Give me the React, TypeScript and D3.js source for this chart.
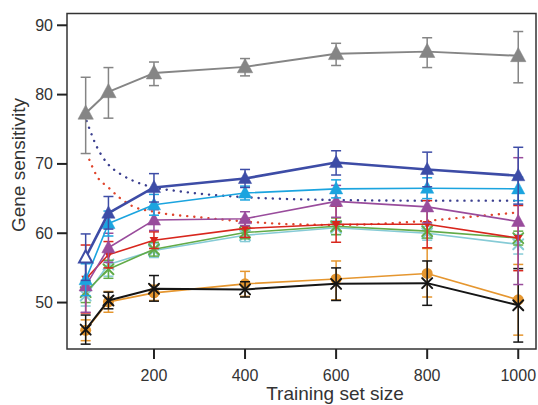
import * as d3 from 'd3'

const W = 538
const H = 405
const FRAME = { left: 67, right: 536, top: 13.5, bottom: 349 }
const FONT = '"Liberation Sans", Arial, sans-serif'

// training set sizes
const sizes = [50, 100, 200, 400, 600, 800, 1000]
const xTicks = [200, 400, 600, 800, 1000]
const yTicks = [50, 60, 70, 80, 90]

// mean gene sensitivity and error bar ends per series
const grayMean = [77.3, 80.4, 83.1, 84.0, 85.9, 86.2, 85.6]
const grayLo = [71.5, 76.6, 81.3, 82.7, 84.2, 83.9, 81.7]
const grayHi = [82.5, 83.9, 84.7, 85.2, 87.4, 88.2, 89.1]

const navyMean = [56.5, 62.9, 66.6, 67.9, 70.2, 69.2, 68.3]
const navyLo = [53.2, 60.6, 64.5, 66.6, 68.4, 66.7, 64.2]
const navyHi = [59.9, 65.3, 68.6, 69.2, 71.9, 71.7, 72.4]

const skyMean = [53.3, 61.4, 64.1, 65.8, 66.4, 66.5, 66.4]
const skyLo = [51.0, 59.6, 62.6, 64.8, 65.1, 65.0, 64.7]
const skyHi = [55.6, 63.2, 65.6, 66.8, 67.7, 68.0, 68.1]

const purpleMean = [52.4, 57.9, 61.9, 62.1, 64.6, 63.8, 61.7]
const purpleLo = [48.6, 55.8, 60.4, 61.1, 62.3, 61.5, 52.6]
const purpleHi = [56.2, 60.0, 63.4, 63.1, 66.9, 66.1, 70.9]

const redMean = [53.4, 56.9, 59.0, 60.7, 61.3, 61.3, 59.3]
const redLo = [48.5, 55.0, 57.8, 59.4, 58.7, 57.9, 54.6]
const redHi = [58.3, 58.8, 60.2, 62.0, 63.9, 64.7, 64.0]

const greenMean = [51.5, 54.8, 57.7, 60.1, 61.0, 60.3, 59.3]
const greenLo = [50.0, 53.5, 56.7, 59.2, 59.8, 59.3, 58.3]
const greenHi = [53.0, 56.1, 58.7, 61.0, 62.2, 61.3, 60.3]

const tealMean = [51.0, 55.5, 57.5, 59.7, 60.8, 60.0, 58.4]
const tealLo = [49.5, 53.8, 56.5, 58.8, 59.8, 59.0, 57.0]
const tealHi = [52.5, 57.2, 58.5, 60.6, 61.8, 61.0, 59.8]

const orangeMean = [46.0, 50.1, 51.4, 52.7, 53.4, 54.2, 50.4]
const orangeLo = [44.5, 48.6, 50.3, 50.9, 50.4, 50.8, 45.3]
const orangeHi = [47.5, 51.6, 52.5, 54.5, 56.0, 57.8, 55.5]

const blackMean = [46.1, 50.3, 52.0, 51.9, 52.7, 52.8, 49.6]
const blackLo = [44.0, 49.1, 50.2, 50.8, 50.3, 49.6, 44.3]
const blackHi = [48.2, 51.5, 53.9, 53.0, 55.0, 56.0, 54.9]

// dotted reference curves
const navyFitX = [52, 75, 100, 125, 150, 200, 250, 300, 400, 600, 800, 1000]
const navyFitY = [76.2, 72.4, 69.9, 68.6, 67.7, 66.6, 66.1, 65.7, 65.2, 64.8, 64.7, 64.7]
const redFitX = [58, 75, 100, 125, 150, 200, 300, 400, 500, 600, 800, 900, 1000]
const redFitY = [70.6, 68.2, 66.6, 65.1, 64.0, 63.1, 62.3, 61.7, 61.3, 61.2, 61.8, 62.4, 63.0]

type Marker = 'tri' | 'tridown' | 'circle' | 'x' | 'star'

interface Series {
  color: string
  mean: number[]
  lo: number[]
  hi: number[]
  marker: Marker
  lineWidth: number
  markerSize: number
  hollowFirst?: boolean
}

// drawing order: bottom first
const series: Series[] = [
  { color: '#86cbd6', mean: tealMean, lo: tealLo, hi: tealHi, marker: 'star', lineWidth: 1.6, markerSize: 5 },
  { color: '#62ab48', mean: greenMean, lo: greenLo, hi: greenHi, marker: 'x', lineWidth: 1.6, markerSize: 5 },
  { color: '#e5962f', mean: orangeMean, lo: orangeLo, hi: orangeHi, marker: 'circle', lineWidth: 1.6, markerSize: 5.5 },
  { color: '#151515', mean: blackMean, lo: blackLo, hi: blackHi, marker: 'x', lineWidth: 2, markerSize: 5 },
  { color: '#d8261d', mean: redMean, lo: redLo, hi: redHi, marker: 'tridown', lineWidth: 1.6, markerSize: 8 },
  { color: '#994c9c', mean: purpleMean, lo: purpleLo, hi: purpleHi, marker: 'tri', lineWidth: 1.6, markerSize: 12 },
  { color: '#1ba4df', mean: skyMean, lo: skyLo, hi: skyHi, marker: 'tri', lineWidth: 1.6, markerSize: 12 },
  { color: '#3d4ca6', mean: navyMean, lo: navyLo, hi: navyHi, marker: 'tri', lineWidth: 2.6, markerSize: 12, hollowFirst: true },
  { color: '#858585', mean: grayMean, lo: grayLo, hi: grayHi, marker: 'tri', lineWidth: 2, markerSize: 14 },
]

function MarkerShape({ m, x, y, color, size, hollow }: { m: Marker; x: number; y: number; color: string; size: number; hollow?: boolean }) {
  if (m === 'tri') {
    const p = `M${x},${y - size * 0.6}L${x - size * 0.55},${y + size * 0.42}L${x + size * 0.55},${y + size * 0.42}Z`
    return <path d={p} fill={hollow ? '#fff' : color} stroke={color} strokeWidth={hollow ? 2 : 0.5} />
  }
  if (m === 'tridown') {
    const p = `M${x},${y + size * 0.55}L${x - size * 0.55},${y - size * 0.4}L${x + size * 0.55},${y - size * 0.4}Z`
    return <path d={p} fill={color} />
  }
  if (m === 'circle') {
    return <circle cx={x} cy={y} r={size} fill={color} />
  }
  const s = size
  return (
    <g stroke={color} strokeWidth={2} strokeLinecap="round">
      <line x1={x - s} y1={y - s} x2={x + s} y2={y + s} />
      <line x1={x - s} y1={y + s} x2={x + s} y2={y - s} />
      {m === 'star' && <line x1={x} y1={y - s * 1.2} x2={x} y2={y + s * 1.2} />}
    </g>
  )
}

export default function App() {
  const x = d3.scaleLinear().domain([9, 1039]).range([FRAME.left, FRAME.right])
  const y = d3.scaleLinear().domain([43.3, 91.7]).range([FRAME.bottom, FRAME.top])

  const line = d3
    .line<number>()
    .x((_, i) => x(sizes[i]))
    .y((v) => y(v))

  const fitLine = (xs: number[]) =>
    d3
      .line<number>()
      .x((_, i) => x(xs[i]))
      .y((v) => y(v))
      .curve(d3.curveMonotoneX)

  const cap = 5

  return (
    <svg width={W} height={H} style={{ position: 'absolute', left: 0, top: 0, background: '#fff' }} fontFamily={FONT}>
      {/* dotted curves */}
      <path d={fitLine(redFitX)(redFitY) ?? ''} fill="none" stroke="#e0452c" strokeWidth={2.4} strokeDasharray="0.1 7" strokeLinecap="round" />
      <path d={fitLine(navyFitX)(navyFitY) ?? ''} fill="none" stroke="#3b3f8f" strokeWidth={2.4} strokeDasharray="0.1 7" strokeLinecap="round" />

      {series.map((s, si) => (
        <g key={si}>
          {s.mean.map((_, i) => (
            <g key={i} stroke={s.color} strokeWidth={1.5}>
              <line x1={x(sizes[i])} x2={x(sizes[i])} y1={y(s.lo[i])} y2={y(s.hi[i])} />
              <line x1={x(sizes[i]) - cap} x2={x(sizes[i]) + cap} y1={y(s.lo[i])} y2={y(s.lo[i])} />
              <line x1={x(sizes[i]) - cap} x2={x(sizes[i]) + cap} y1={y(s.hi[i])} y2={y(s.hi[i])} />
            </g>
          ))}
          <path d={line(s.mean) ?? ''} fill="none" stroke={s.color} strokeWidth={s.lineWidth} strokeLinejoin="round" />
          {s.mean.map((v, i) => (
            <MarkerShape
              key={i}
              m={s.marker}
              x={x(sizes[i])}
              y={y(v)}
              color={s.color}
              size={s.markerSize}
              hollow={s.hollowFirst && i === 0}
            />
          ))}
        </g>
      ))}

      {/* frame */}
      <rect
        x={FRAME.left}
        y={FRAME.top}
        width={FRAME.right - FRAME.left}
        height={FRAME.bottom - FRAME.top}
        fill="none"
        stroke="#333"
        strokeWidth={1.5}
      />

      {/* x axis */}
      {xTicks.map((t) => (
        <g key={t}>
          <line x1={x(t)} x2={x(t)} y1={FRAME.bottom} y2={FRAME.bottom + 10} stroke="#222" strokeWidth={2} />
          <text x={x(t)} y={381} textAnchor="middle" fontSize={16} fill="#333">
            {t}
          </text>
        </g>
      ))}
      <text x={335} y={400} textAnchor="middle" fontSize={19} fill="#333">
        Training set size
      </text>

      {/* y axis */}
      {yTicks.map((t) => (
        <g key={t}>
          <line x1={FRAME.left - 10} x2={FRAME.left} y1={y(t)} y2={y(t)} stroke="#222" strokeWidth={2} />
          <text x={53} y={y(t) + 5.5} textAnchor="end" fontSize={16} fill="#333">
            {t}
          </text>
        </g>
      ))}
      <text transform="translate(25,165) rotate(-90)" textAnchor="middle" fontSize={19} fill="#333">
        Gene sensitivity
      </text>
    </svg>
  )
}
